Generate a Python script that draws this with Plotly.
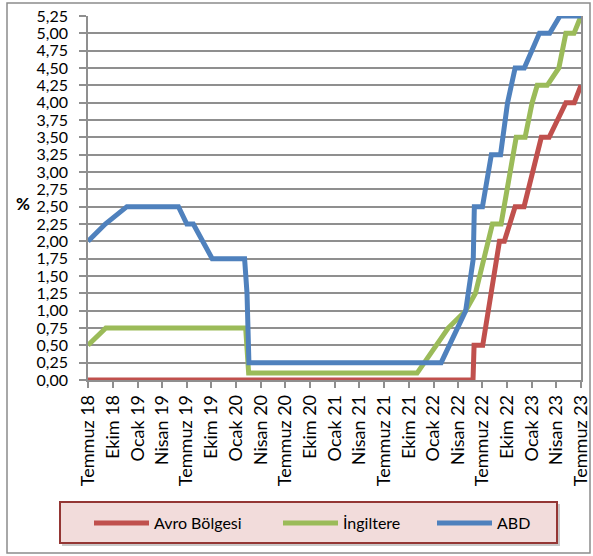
import plotly.graph_objects as go

# ---- data ----
avro_dates = ["2018-07-01", "2022-05-27", "2022-05-31", "2022-07-02", "2022-09-02",
              "2022-09-20", "2022-10-30", "2022-12-02", "2023-02-04", "2023-03-05",
              "2023-04-05", "2023-05-06", "2023-06-06", "2023-07-01"]
avro_vals = [0.00, 0.00, 0.50, 0.50, 2.00, 2.00, 2.50, 2.50, 3.50, 3.50, 3.75, 4.00, 4.00, 4.25]

ing_dates = ["2018-07-01", "2018-09-05", "2020-02-05", "2020-02-16", "2021-11-01",
             "2022-02-24", "2022-04-30", "2022-06-05", "2022-08-07", "2022-09-08",
             "2022-11-03", "2022-12-06", "2023-01-01", "2023-01-20", "2023-02-26",
             "2023-04-10", "2023-05-06", "2023-06-05", "2023-07-01"]
ing_vals = [0.50, 0.75, 0.75, 0.10, 0.10, 0.75, 1.00, 1.25, 2.25, 2.25,
            3.50, 3.50, 4.00, 4.25, 4.25, 4.50, 5.00, 5.00, 5.25]

abd_dates = ["2018-07-01", "2018-09-03", "2018-11-22", "2019-06-01", "2019-07-02",
             "2019-07-26", "2019-10-04", "2020-02-01", "2020-02-10", "2020-02-17",
             "2022-01-29", "2022-04-30", "2022-05-28", "2022-06-01", "2022-07-01",
             "2022-08-03", "2022-09-06", "2022-10-02", "2022-10-30", "2022-12-03",
             "2023-01-28", "2023-03-07", "2023-04-14", "2023-07-01"]
abd_vals = [2.00, 2.25, 2.50, 2.50, 2.25, 2.25, 1.75, 1.75, 1.25, 0.25,
            0.25, 1.00, 1.75, 2.50, 2.50, 3.25, 3.25, 4.00, 4.50, 4.50,
            5.00, 5.00, 5.25, 5.25]

series_names = ["Avro Bölgesi", "İngiltere", "ABD"]
series_colors = ["#C0504D", "#9BBB59", "#4F81BD"]

tick_dates = ["2018-07-01", "2018-10-01", "2019-01-01", "2019-04-01", "2019-07-01",
              "2019-10-01", "2020-01-01", "2020-04-01", "2020-07-01", "2020-10-01",
              "2021-01-01", "2021-04-01", "2021-07-01", "2021-10-01", "2022-01-01",
              "2022-04-01", "2022-07-01", "2022-10-01", "2023-01-01", "2023-04-01",
              "2023-07-01"]
tick_labels = ["Temmuz 18", "Ekim 18", "Ocak 19", "Nisan 19", "Temmuz 19", "Ekim 19",
               "Ocak 20", "Nisan 20", "Temmuz 20", "Ekim 20", "Ocak 21", "Nisan 21",
               "Temmuz 21", "Ekim 21", "Ocak 22", "Nisan 22", "Temmuz 22", "Ekim 22",
               "Ocak 23", "Nisan 23", "Temmuz 23"]

FONT = "Lato"
GRID = "#8f8f8f"

fig = go.Figure()
all_x = [avro_dates, ing_dates, abd_dates]
all_y = [avro_vals, ing_vals, abd_vals]
legends = ["legend", "legend2", "legend3"]
for xs, ys, nm, col, lg in zip(all_x, all_y, series_names, series_colors, legends):
    fig.add_trace(go.Scatter(x=xs, y=ys, name=nm, mode="lines",
                             line=dict(color=col, width=5),
                             cliponaxis=False, legend=lg, showlegend=True))

# plot area: left 88, right 581, top 16, bottom 380 (px)
L, R, T, B = 88, 581, 16, 380
W, H = 593, 556
pw, ph = R - L, B - T


def px2x(px):
    return (px - L) / pw


def py2y(py):
    return (B - py) / ph


def leg(xpx):
    return dict(x=px2x(xpx), y=py2y(523), orientation="h",
                yanchor="middle", xanchor="left",
                bgcolor="rgba(0,0,0,0)", borderwidth=0, itemwidth=55,
                font=dict(family=FONT, size=16, color="black"))


fig.update_layout(
    width=W, height=H,
    margin=dict(l=L, r=W - R, t=T, b=H - B, autoexpand=False),
    paper_bgcolor="white", plot_bgcolor="white",
    separators=",.",
    showlegend=True,
    font=dict(family=FONT, size=16, color="black"),
    legend=leg(89),
    legend2=leg(278),
    legend3=leg(432),
    xaxis=dict(type="date", range=["2018-07-01", "2023-07-01"], automargin=False,
               tickvals=tick_dates, ticktext=tick_labels, tickangle=-90,
               showgrid=False, showline=True, linecolor=GRID, linewidth=1.5,
               ticks="outside", ticklen=6, tickcolor=GRID, tickwidth=1.5,
               tickfont=dict(family=FONT, size=18, color="black")),
    yaxis=dict(range=[0, 5.25], tick0=0, dtick=0.25, tickformat=".2f", automargin=False,
               showgrid=True, gridcolor=GRID, gridwidth=1.5, zeroline=False,
               showline=True, linecolor=GRID, linewidth=1.5, mirror=True,
               ticks="outside", ticklen=7, tickcolor=GRID, tickwidth=1.5,
               ticklabelstandoff=8,
               tickfont=dict(family=FONT, size=16, color="black")),
)

# y-axis unit label
fig.add_annotation(text="<b>%</b>", xref="paper", yref="y", x=px2x(23), y=2.54,
                   showarrow=False, xanchor="center", yanchor="middle",
                   font=dict(family=FONT, size=17, color="black"))

# outer chart frame
fig.add_shape(type="rect", xref="paper", yref="paper",
              x0=px2x(7), x1=px2x(590), y0=py2y(553), y1=py2y(3),
              line=dict(color="#8c8c8c", width=1.5), fillcolor="rgba(0,0,0,0)",
              layer="below")
# legend box shadow + box
fig.add_shape(type="rect", xref="paper", yref="paper",
              x0=px2x(62), x1=px2x(560), y0=py2y(546), y1=py2y(504),
              line=dict(width=0), fillcolor="#c8c8c8", layer="below")
fig.add_shape(type="rect", xref="paper", yref="paper",
              x0=px2x(60), x1=px2x(557), y0=py2y(543), y1=py2y(502),
              line=dict(color="#943634", width=2), fillcolor="#F2DCDB",
              layer="below")

fig.write_html("out.html", config={"displayModeBar": False},
               post_script="document.body.style.margin='0px';")
